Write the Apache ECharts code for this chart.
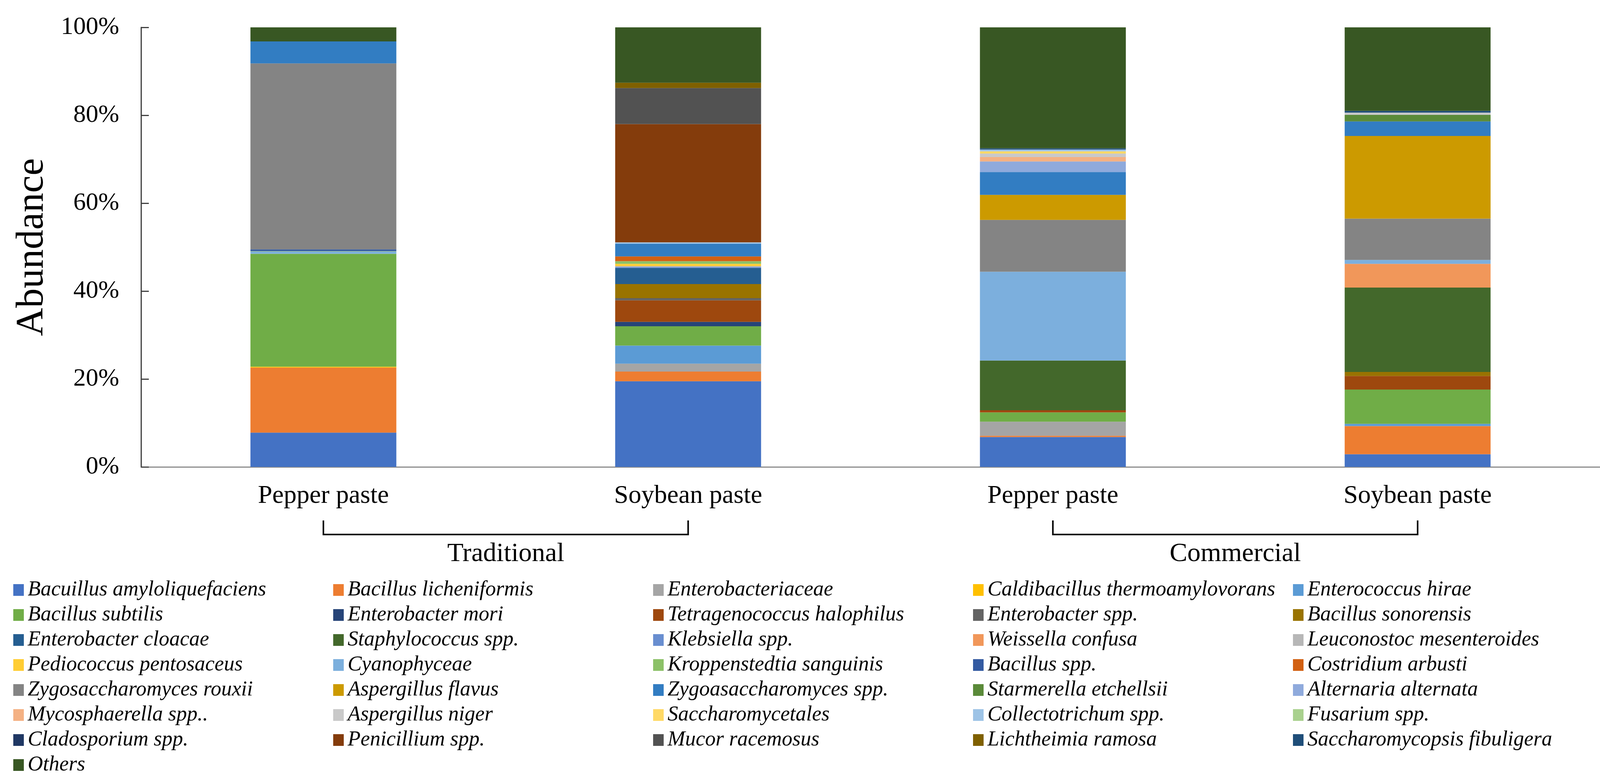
<!DOCTYPE html>
<html>
<head>
<meta charset="utf-8">
<title>Abundance</title>
<script src="https://cdn.jsdelivr.net/npm/echarts@6/dist/echarts.min.js"></script>
<style>
	* { margin: 0; padding: 0; }
	html, body { width: 100%; height: 100%; background: #fff; }
	#main { width: 4119px; height: 2004px; }
</style>
</head>
<body>
<div id="main"></div>
<script type="text/javascript">
	// samples: traditional pepper, traditional soybean, commercial pepper, commercial soybean
	var samples = ['Pepper paste', 'Soybean paste', 'Pepper paste ', 'Soybean paste '];
	var groupNames = ['Traditional', 'Commercial'];
	var yTicks = [0, 20, 40, 60, 80, 100];

	var taxa = [
		'Bacuillus amyloliquefaciens', 'Bacillus licheniformis', 'Enterobacteriaceae', 'Caldibacillus thermoamylovorans', 'Enterococcus hirae',
		'Bacillus subtilis', 'Enterobacter mori', 'Tetragenococcus halophilus', 'Enterobacter spp.', 'Bacillus sonorensis',
		'Enterobacter cloacae', 'Staphylococcus spp.', 'Klebsiella spp.', 'Weissella confusa', 'Leuconostoc mesenteroides',
		'Pediococcus pentosaceus', 'Cyanophyceae', 'Kroppenstedtia sanguinis', 'Bacillus spp.', 'Costridium arbusti',
		'Zygosaccharomyces rouxii', 'Aspergillus flavus', 'Zygoasaccharomyces spp.', 'Starmerella etchellsii', 'Alternaria alternata',
		'Mycosphaerella spp..', 'Aspergillus niger', 'Saccharomycetales', 'Collectotrichum spp.', 'Fusarium spp.',
		'Cladosporium spp.', 'Penicillium spp.', 'Mucor racemosus', 'Lichtheimia ramosa', 'Saccharomycopsis fibuligera',
		'Others'
	];

	// abundance (%) per taxon, one value per sample
	var abundance = [
		[7.8, 19.5, 6.8, 2.9],
		[14.8, 2.2, 0.3, 6.4],
		[0, 1.8, 3.2, 0],
		[0.2, 0, 0, 0],
		[0, 4.1, 0, 0.5],
		[25.7, 4.4, 2.1, 7.8],
		[0, 1.0, 0, 0],
		[0, 4.9, 0.5, 3.1],
		[0, 0.5, 0, 0],
		[0, 3.2, 0, 0.9],
		[0, 3.7, 0, 0],
		[0, 0, 11.3, 19.2],
		[0, 0.2, 0, 0],
		[0, 0, 0, 5.4],
		[0, 0.2, 0, 0],
		[0, 0.5, 0, 0],
		[0.5, 0, 20.2, 0.9],
		[0.1, 0.6, 0, 0],
		[0.4, 0, 0, 0],
		[0, 1.1, 0, 0],
		[42.3, 0, 11.8, 9.4],
		[0, 0, 5.7, 18.8],
		[5.0, 2.9, 5.2, 3.3],
		[0, 0, 0, 1.5],
		[0, 0, 2.4, 0],
		[0, 0, 1.0, 0],
		[0, 0, 0.8, 0.5],
		[0, 0, 0.5, 0],
		[0, 0.3, 0.4, 0],
		[0, 0, 0, 0],
		[0, 0, 0, 0],
		[0, 26.9, 0, 0],
		[0, 8.2, 0, 0],
		[0, 1.2, 0, 0],
		[0, 0, 0.3, 0.4],
		[3.2, 12.6, 27.5, 19.0]
	];

	// office palette, cycled the way the spreadsheet does it
	var colors = [
		'#4472C4', '#ED7D31', '#A5A5A5', '#FFC000', '#5B9BD5', '#70AD47',
		'#264478', '#9E480E', '#636363', '#997300', '#255E91', '#43682B',
		'#698ED0', '#F1975A', '#B7B7B7', '#FFCD33', '#7CAFDD', '#8CC168',
		'#335AA1', '#D26012', '#848484', '#CC9A00', '#327DC2', '#5A8A39',
		'#8FAADC', '#F4B183', '#C9C9C9', '#FFD966', '#9DC3E6', '#A9D18E',
		'#203864', '#843C0C', '#525252', '#7F6000', '#1F4E79', '#385723'
	];

	var FONT = "'Times New Roman', 'Liberation Serif', serif";

	var myChart = echarts.init(document.getElementById('main'));

	var series = [];
	for (var i = 0; i < taxa.length; i++) {
		series.push({
			name: taxa[i],
			type: 'bar',
			stack: 'total',
			barWidth: '40%',
			itemStyle: { color: colors[i] },
			data: abundance[i]
		});
	}

	// legend: 5 columns, filled row by row
	var legends = [];
	var colLeft = [34, 853, 1672, 2491, 3310];
	for (var c = 0; c < 5; c++) {
		var names = [];
		for (var k = c; k < taxa.length; k += 5) names.push(taxa[k]);
		legends.push({
			data: names,
			orient: 'vertical',
			left: colLeft[c],
			top: 1483,
			padding: 0,
			itemGap: 10,
			itemWidth: 27,
			itemHeight: 30,
			icon: 'rect',
			selectedMode: false,
			textStyle: {
				fontFamily: FONT,
				fontStyle: 'italic',
				fontSize: 54,
				lineHeight: 54,
				color: '#000',
				padding: [0, 0, 0, 5]
			}
		});
	}

	var option = {
		animation: false,
		backgroundColor: '#fff',
		color: colors,
		legend: legends,
		grid: {
			left: 361,
			right: 23,
			top: 70,
			bottom: 809
		},
		xAxis: {
			type: 'category',
			data: samples,
			axisLine: { lineStyle: { color: '#8c8c8c', width: 3 } },
			axisTick: { show: false },
			axisLabel: {
				margin: 42,
				fontFamily: FONT,
				fontSize: 66,
				color: '#000',
				formatter: function (v) { return v.trim(); }
			}
		},
		yAxis: {
			type: 'value',
			min: yTicks[0],
			max: yTicks[yTicks.length - 1],
			interval: yTicks[1] - yTicks[0],
			name: 'Abundance',
			nameLocation: 'middle',
			nameGap: 228,
			nameTextStyle: { fontFamily: FONT, fontSize: 100, color: '#000' },
			splitLine: { show: false },
			axisLine: { show: true, lineStyle: { color: '#404040', width: 3 } },
			axisTick: { show: true, inside: true, length: 20, lineStyle: { color: '#404040', width: 3 } },
			axisLabel: {
				margin: 56,
				fontFamily: FONT,
				fontSize: 64,
				color: '#000',
				formatter: '{value}%'
			}
		},
		series: series
	};

	myChart.setOption(option);

	// group brackets under the category labels
	var y0 = myChart.convertToPixel({ yAxisIndex: 0 }, 0);
	var graphics = [];
	for (var g = 0; g < groupNames.length; g++) {
		var xa = myChart.convertToPixel({ xAxisIndex: 0 }, samples[g * 2]);
		var xb = myChart.convertToPixel({ xAxisIndex: 0 }, samples[g * 2 + 1]);
		graphics.push({
			type: 'polyline',
			shape: { points: [[xa, y0 + 137], [xa, y0 + 173], [xb, y0 + 173], [xb, y0 + 137]] },
			style: { stroke: '#000', lineWidth: 4, fill: null }
		});
		graphics.push({
			type: 'text',
			x: (xa + xb) / 2,
			y: y0 + 223,
			style: {
				text: groupNames[g],
				fontFamily: FONT,
				fontSize: 68,
				fill: '#000',
				align: 'center',
				verticalAlign: 'middle'
			}
		});
	}
	myChart.setOption({ graphic: graphics });
</script>
</body>
</html>
